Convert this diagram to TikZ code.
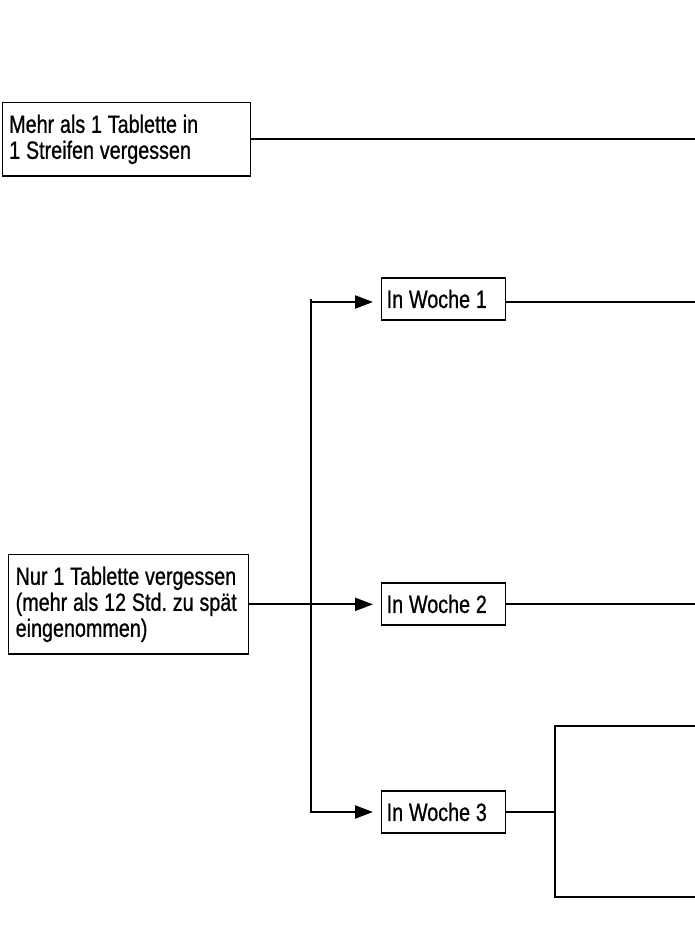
\documentclass[tikz,border=0pt]{standalone}
\usepackage{fontspec}
\setmainfont{Liberation Sans}[FakeStretch=0.79,FakeBold=0.8]
\usetikzlibrary{arrows.meta}
\begin{document}
\begin{tikzpicture}[x=1pt,y=-1pt,>={Triangle[length=18pt,width=13pt]},line width=2.2pt,
box/.style={draw,line width=1.4pt,align=left,inner ysep=12pt,font=\fontsize{25}{26}\selectfont,
  execute at begin node={\spaceskip=5.8pt\xspaceskip=5.8pt\relax}},
wide/.style={box,anchor=north west,inner xsep=6.5pt,text width=235pt},
week/.style={box,anchor=west,inner xsep=5pt,text width=114pt}]
\useasboundingbox (0,0) rectangle (695,947);
\node[wide] (mehr) at (2,102) {Mehr als 1 Tablette in\\1 Streifen vergessen};
\node[wide,text width=226pt,inner xsep=7pt] (nur) at (8,554) {Nur 1 Tablette vergessen\\(mehr als 12 Std. zu spät\\eingenommen)};
\node[week] (w1) at (381,299) {In Woche 1};
\node[week] (w2) at (381,604) {In Woche 2};
\node[week] (w3) at (381,812) {In Woche 3};
\coordinate (split) at (311,302);
\coordinate (fork) at (555,812);
\coordinate (e1) at (695,302);
\coordinate (e3) at (695,726);
\coordinate (e4) at (695,897);
\draw (mehr.east)--(mehr.east-|e1);
\draw[->,shorten >=8pt] (nur.east)--(nur.east-|w2.west);
\draw[->,shorten >=8pt] (split|-w3)--(split)--(w1.west|-split);
\draw[->,shorten >=8pt] (split|-w1)--(split|-w3)--(w3.west);
\draw (w1.east|-e1)--(e1);
\draw (w2.east)--(w2.east-|e1);
\draw (w3.east)--(fork);
\draw (e3)--(fork|-e3)--(fork|-e4)--(e4);
\end{tikzpicture}
\end{document}
